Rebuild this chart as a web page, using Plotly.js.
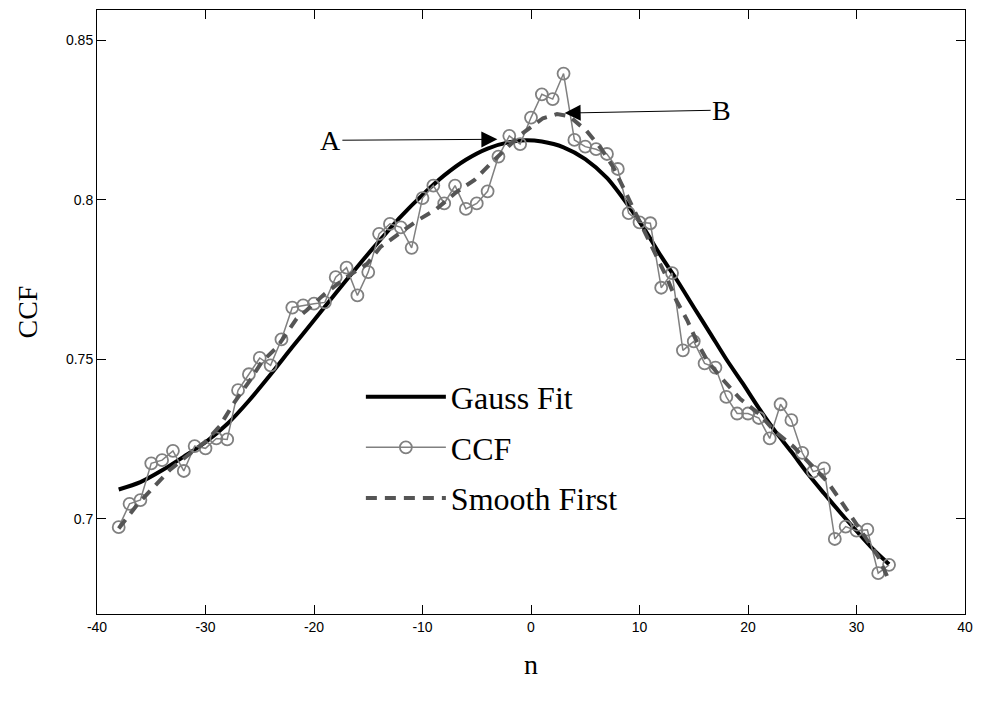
<!DOCTYPE html>
<html>
<head>
<meta charset="utf-8">
<script src="https://cdn.plot.ly/plotly-3.0.1.min.js"></script>
<style>html,body{margin:0;padding:0;background:#fff;}#chart{width:985px;height:711px;}</style>
</head>
<body>
<div id="chart"></div>
<script>
// CCF samples (n = -38 .. 33)
var ccfN = [-38,-37,-36,-35,-34,-33,-32,-31,-30,-29,-28,-27,-26,-25,-24,-23,-22,-21,-20,-19,-18,-17,-16,-15,-14,-13,-12,-11,-10,-9,-8,-7,-6,-5,-4,-3,-2,-1,0,1,2,3,4,5,6,7,8,9,10,11,12,13,14,15,16,17,18,19,20,21,22,23,24,25,26,27,28,29,30,31,32,33];
var ccfY = [0.6974,0.7047,0.7059,0.7174,0.7184,0.7213,0.7150,0.7228,0.7221,0.7252,0.7249,0.7403,0.7453,0.7504,0.7481,0.7562,0.7662,0.7669,0.7674,0.7678,0.7757,0.7787,0.7700,0.7773,0.7893,0.7924,0.7913,0.7849,0.8005,0.8044,0.7988,0.8044,0.7971,0.7988,0.8026,0.8135,0.8200,0.8174,0.8257,0.8330,0.8315,0.8395,0.8187,0.8166,0.8158,0.8143,0.8096,0.7958,0.7929,0.7926,0.7724,0.7770,0.7528,0.7556,0.7487,0.7474,0.7382,0.7330,0.7330,0.7316,0.7252,0.7359,0.7309,0.7207,0.7148,0.7158,0.6937,0.6976,0.6963,0.6966,0.6830,0.6856];

// Gauss fit curve
var gaussN = [-38,-36,-34,-32,-30,-28,-26,-24,-22,-20,-18,-16,-14,-12,-10,-8,-6,-4,-2,-0.5,1,3,5,7,9,10.5,12,13.5,15,16.5,18,19.5,21,22.5,24,25.5,27,28.5,30,31.5,33];
var gaussY = [0.7092,0.7115,0.7152,0.7195,0.7240,0.7297,0.7370,0.7452,0.7538,0.7622,0.7707,0.7790,0.7870,0.7947,0.8015,0.8076,0.8125,0.8160,0.8180,0.8186,0.8182,0.8164,0.8127,0.8068,0.7980,0.7905,0.7822,0.7745,0.7663,0.7582,0.7500,0.7425,0.7347,0.7275,0.7210,0.7142,0.7080,0.7020,0.6962,0.6906,0.6858];

// Smooth First curve
var smoothN = [-38,-36.3,-34.6,-33.3,-31.6,-30,-28.7,-27.4,-25.9,-24.8,-23.4,-21.6,-20.7,-19,-17,-15.1,-13.9,-12.1,-10.5,-8.7,-6.9,-5.2,-3.6,-0.9,1.1,2.4,3.5,5.1,6.5,7.6,8.6,9.6,10.7,11.6,12.5,13.4,14.4,15.3,16.3,17.8,19.3,21,22.5,24.2,25.7,27.3,28.5,29.7,30.9,32,33.1];
var smoothY = [0.6970,0.7044,0.7106,0.7153,0.7200,0.7242,0.7290,0.7362,0.7434,0.7492,0.7538,0.7627,0.7653,0.7705,0.7757,0.7799,0.7851,0.7893,0.7934,0.7971,0.8023,0.8062,0.8117,0.8205,0.8255,0.8268,0.8262,0.8216,0.8158,0.8101,0.8030,0.7960,0.7888,0.7820,0.7757,0.7684,0.7622,0.7554,0.7492,0.7432,0.7375,0.7330,0.7273,0.7226,0.7174,0.7117,0.7059,0.6997,0.6940,0.6882,0.6799];

var xTickVals = [-40,-30,-20,-10,0,10,20,30,40];
var xTickText = ["-40","-30","-20","-10","0","10","20","30","40"];
var yTickVals = [0.7,0.75,0.8,0.85];
var yTickText = ["0.7","0.75","0.8","0.85"];

var serif = "Liberation Serif, Times New Roman, serif";
var sans = "Liberation Sans, Arial, sans-serif";

var traces = [
  {x: gaussN, y: gaussY, mode: "lines", name: "Gauss Fit", legendgroup: "g1",
   line: {color: "#000000", width: 4, shape: "spline", smoothing: 0.8}},
  {x: ccfN, y: ccfY, mode: "lines+markers", name: "CCF", legendgroup: "g2",
   line: {color: "#808080", width: 1.5},
   marker: {symbol: "circle-open", size: 12, color: "#808080", line: {width: 1.8, color: "#808080"}}},
  {x: smoothN, y: smoothY, mode: "lines", name: "Smooth First", legendgroup: "g3",
   line: {color: "#555555", width: 4, dash: "11px,8px"}}
];

var layout = {
  width: 985, height: 711,
  margin: {l: 97, r: 20, t: 10, b: 97},
  paper_bgcolor: "#ffffff", plot_bgcolor: "#ffffff",
  showlegend: true,
  legend: {x: 0.304, y: 0.405, xanchor: "left", yanchor: "top",
           bgcolor: "rgba(0,0,0,0)", borderwidth: 0,
           font: {family: serif, size: 32, color: "#000"},
           itemwidth: 80, traceorder: "grouped", tracegroupgap: 6},
  xaxis: {range: [-40, 40], tickvals: xTickVals, ticktext: xTickText,
          ticks: "inside", ticklen: 9, tickcolor: "#000", showline: true, linecolor: "#000", linewidth: 1,
          mirror: "ticks", showgrid: false, zeroline: false,
          tickfont: {family: sans, size: 14, color: "#000"},
          title: {text: "n", font: {family: serif, size: 28, color: "#000"}, standoff: 20}},
  yaxis: {range: [0.6702, 0.8594], tickvals: yTickVals, ticktext: yTickText,
          ticks: "inside", ticklen: 9, tickcolor: "#000", showline: true, linecolor: "#000", linewidth: 1,
          mirror: "ticks", showgrid: false, zeroline: false,
          tickfont: {family: sans, size: 14, color: "#000"},
          title: {text: "CCF", font: {family: serif, size: 28, color: "#000"}, standoff: 20}},
  annotations: [
    {x: -3.1, y: 0.8189, xref: "x", yref: "y", text: "A", showarrow: true,
     ax: -167, ay: 1, arrowhead: 2, arrowsize: 3.2, arrowwidth: 1, arrowcolor: "#000",
     font: {family: serif, size: 28, color: "#000"}},
    {x: 3.1, y: 0.8271, xref: "x", yref: "y", text: "B", showarrow: true,
     ax: 157, ay: -3, arrowhead: 2, arrowsize: 3.2, arrowwidth: 1, arrowcolor: "#000",
     font: {family: serif, size: 28, color: "#000"}}
  ]
};

Plotly.newPlot("chart", traces, layout, {displayModeBar: false, staticPlot: true});
</script>
</body>
</html>
